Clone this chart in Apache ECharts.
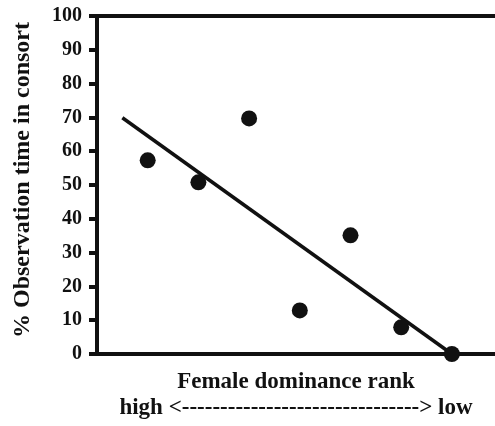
<!DOCTYPE html>
<html>
<head>
<meta charset="utf-8">
<script src="https://cdn.jsdelivr.net/npm/echarts@6/dist/echarts.min.js"></script>
<style>
  html, body { margin: 0; padding: 0; background: #fff; }
  #chart { width: 495px; height: 426px; }
</style>
</head>
<body>
<div id="chart"></div>
<script>
// female rank (1 = highest) and % of observation time in consort
const ranks = [1, 2, 3, 4, 5, 6, 7]
const consortPct = [57.3, 50.8, 69.7, 12.9, 35.1, 7.9, 0]
// fitted line endpoints as drawn
const fitLine = [[0.5, 69.9], [7, 0]]
const yTicks = [0, 10, 20, 30, 40, 50, 60, 70, 80, 90, 100]

const font = 'Liberation Serif'
const ink = '#111'

const chart = echarts.init(document.getElementById('chart'))

const option = {
  animation: false,
  backgroundColor: '#fff',
  grid: { left: 97, right: 0, top: 16, bottom: 71 },
  xAxis: [
    {
      type: 'value',
      min: 0,
      max: 7.85,
      position: 'bottom',
      name: 'Female dominance rank\nhigh <-------------------------------> low',
      nameLocation: 'middle',
      nameGap: 15,
      nameTextStyle: {
        fontFamily: font, fontWeight: 'bold', fontSize: 23, color: ink,
        lineHeight: 26, verticalAlign: 'top'
      },
      axisLine: { show: true, onZero: false, lineStyle: { color: ink, width: 4 } },
      axisTick: { show: false },
      axisLabel: { show: false },
      splitLine: { show: false }
    },
    {
      type: 'value',
      min: 0,
      max: 7.85,
      position: 'top',
      axisLine: { show: true, onZero: false, lineStyle: { color: ink, width: 4 } },
      axisTick: { show: false },
      axisLabel: { show: false },
      splitLine: { show: false }
    }
  ],
  yAxis: {
    type: 'value',
    min: yTicks[0],
    max: yTicks[yTicks.length - 1],
    interval: 10,
    name: '% Observation time in consort',
    nameLocation: 'middle',
    nameGap: 62,
    nameTextStyle: {
      fontFamily: font, fontWeight: 'bold', fontSize: 24, color: ink,
      padding: [0, 0, 0, 10]
    },
    axisLine: { show: true, onZero: false, lineStyle: { color: ink, width: 4 } },
    axisTick: { show: true, length: 8, lineStyle: { color: ink, width: 4 } },
    axisLabel: {
      margin: 15,
      fontFamily: font, fontWeight: 'bold', fontSize: 20, color: ink
    },
    splitLine: { show: false }
  },
  series: [
    {
      type: 'line',
      data: fitLine,
      symbol: 'none',
      lineStyle: { color: ink, width: 3.5 },
      z: 3
    },
    {
      type: 'scatter',
      data: ranks.map((r, i) => [r, consortPct[i]]),
      symbol: 'circle',
      symbolSize: 16,
      itemStyle: { color: ink, opacity: 1 },
      z: 4
    }
  ]
}

chart.setOption(option)

window.addEventListener('resize', () => {
  chart.resize()
})
</script>
</body>
</html>
